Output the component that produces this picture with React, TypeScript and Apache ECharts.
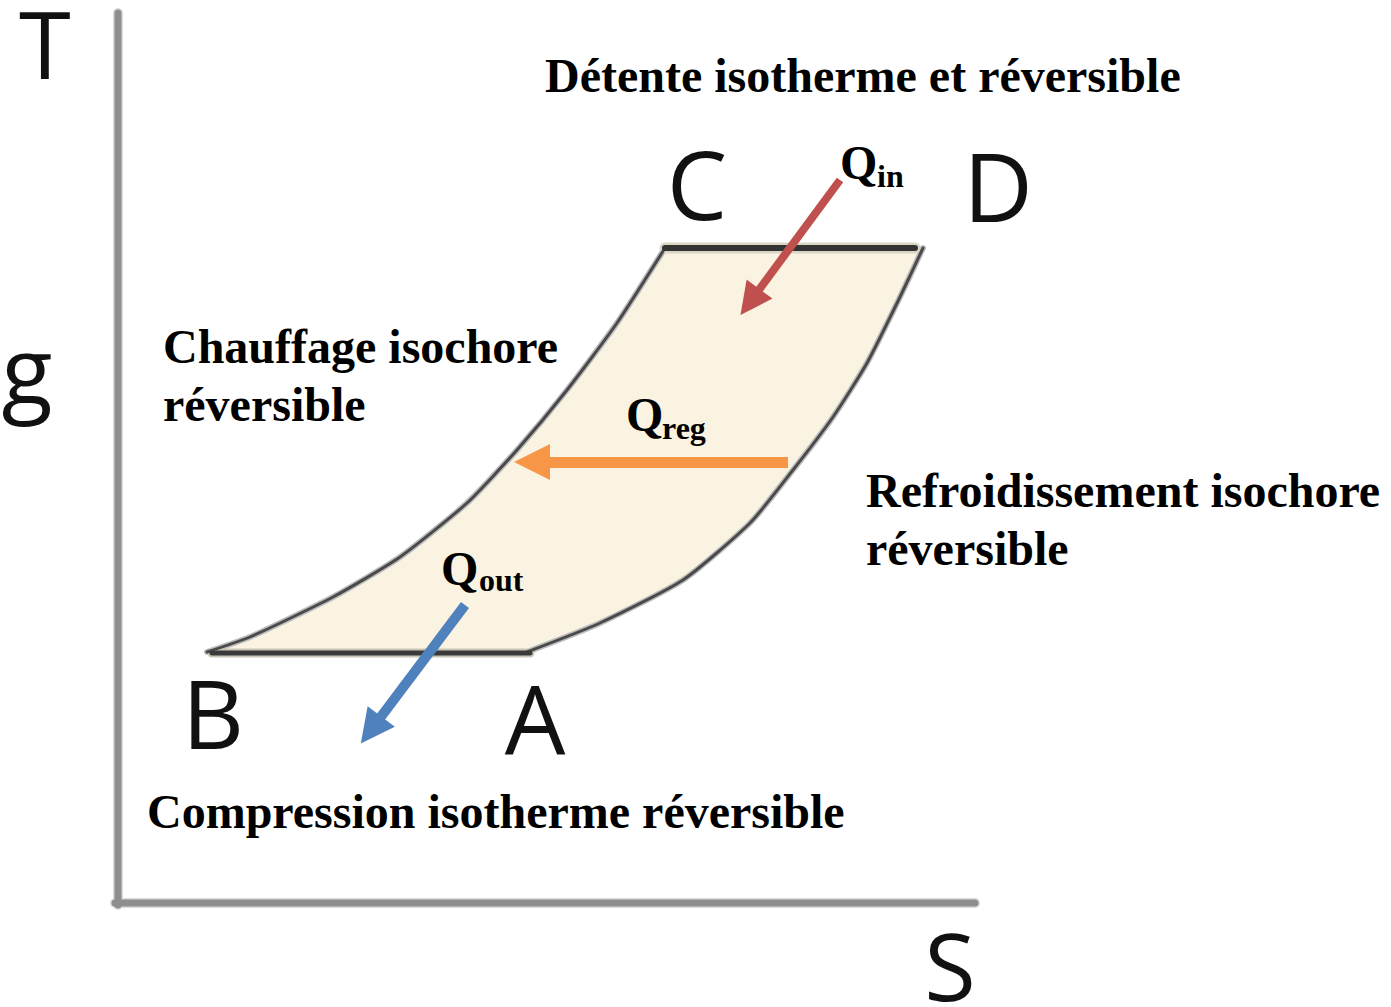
import React, { useEffect, useRef } from "react";
import * as echarts from "echarts";

// Cycle outline (pixel-space coordinates of the T–S sketch, y grows downward)
const leftCurve: number[][] = [
  [207, 652], [250, 637], [333, 597], [400, 557], [467, 503],
  [517, 450], [567, 390], [617, 323], [665, 248],
];
const rightCurve: number[][] = [
  [527, 652], [600, 623], [683, 580], [750, 523], [793, 470],
  [833, 417], [867, 363], [900, 297], [923, 248],
];
const topIsotherm: number[][] = [[665, 248], [915, 248]];
const bottomIsotherm: number[][] = [[212, 653], [530, 653]];

// Axes of the diagram
const axisVertical: number[][] = [[118, 13], [118, 905]];
const axisHorizontal: number[][] = [[115, 903], [975, 903]];

// Heat arrows: [start, head]
const qinArrow: number[][] = [[840, 180], [750, 302]];
const qregArrow: number[][] = [[788, 462], [532, 462]];
const qoutArrow: number[][] = [[465, 605], [371, 730]];

// Texts
const titleLabels = [
  { text: "Détente isotherme et réversible", pos: [545, 75] },
  { text: "Chauffage isochore", pos: [163, 346] },
  { text: "réversible", pos: [163, 404] },
  { text: "Refroidissement isochore", pos: [866, 490] },
  { text: "réversible", pos: [866, 548] },
  { text: "Compression isotherme réversible", pos: [147, 811] },
];
const pointLabels = [
  { text: "C", pos: [697, 182] },
  { text: "D", pos: [998, 184] },
  { text: "B", pos: [213, 711] },
  { text: "A", pos: [535, 717] },
];
const axisLetters = [
  { text: "T", pos: [45, 43] },
  { text: "g", pos: [27, 369] },
  { text: "S", pos: [950, 965] },
];
const heatLabels = [
  { main: "Q", sub: "in", pos: [840, 162], subPos: [877, 176] },
  { main: "Q", sub: "reg", pos: [626, 414], subPos: [662, 428] },
  { main: "Q", sub: "out", pos: [441, 568], subPos: [479, 580] },
];

const SERIF = "'Liberation Serif', 'Times New Roman', serif";
const SANS = "'Open Sans', 'DejaVu Sans', sans-serif";

export default function App() {
  const ref = useRef<HTMLDivElement>(null);

  useEffect(() => {
    if (!ref.current) return;
    const chart = echarts.init(ref.current, undefined, { renderer: "svg" });

    const fillPoly = [...leftCurve, ...rightCurve.slice().reverse()];

    const edge = (data: number[][], color: string, width: number, smooth = 0.2, z = 3) => ({
      type: "line",
      data,
      smooth,
      symbol: "none",
      silent: true,
      z,
      lineStyle: { color, width, cap: "round" },
    });

    const arrow = (coords: number[][], color: string, width: number, size: number) => ({
      type: "lines",
      coordinateSystem: "cartesian2d",
      silent: true,
      z: 6,
      symbol: ["none", "triangle"],
      symbolSize: size,
      lineStyle: { color, width, opacity: 1, curveness: 0 },
      itemStyle: { color },
      data: [{ coords }],
    });

    const graphics: any[] = [];
    const txt = (
      x: number, y: number, text: string, font: string, weight: string,
      size: number, align: string, fill: string, lineHeight?: number
    ) => ({
      type: "text",
      x,
      y,
      z: 100,
      silent: true,
      style: {
        text,
        fontFamily: font,
        fontWeight: weight,
        fontSize: size,
        lineHeight: lineHeight ?? size,
        fill,
        align,
        verticalAlign: "middle",
      },
    });
    titleLabels.forEach((l) =>
      graphics.push(txt(l.pos[0], l.pos[1], l.text, SERIF, "bold", 48, "left", "#000"))
    );
    pointLabels.forEach((l) =>
      graphics.push(txt(l.pos[0], l.pos[1], l.text, SANS, "normal", 96, "center", "#111"))
    );
    axisLetters.forEach((l) =>
      graphics.push(txt(l.pos[0], l.pos[1], l.text, SANS, "normal", 94, "center", "#111", 70))
    );
    heatLabels.forEach((l) => {
      graphics.push(txt(l.pos[0], l.pos[1], l.main, SERIF, "bold", 48, "left", "#000"));
      graphics.push(txt(l.subPos[0], l.subPos[1], l.sub, SERIF, "bold", 32, "left", "#000"));
    });

    chart.setOption({
      animation: false,
      backgroundColor: "#ffffff",
      grid: { left: 0, right: 0, top: 0, bottom: 0, containLabel: false },
      xAxis: { type: "value", min: 0, max: 1391, show: false },
      yAxis: { type: "value", min: 0, max: 1007, inverse: true, show: false },
      series: [
        {
          type: "custom",
          silent: true,
          z: 1,
          data: [[0, 0]],
          renderItem: (params: any, api: any) => {
            if (params.dataIndex !== 0) return null;
            const pts = fillPoly.map((p) => api.coord(p));
            return {
              type: "polygon",
              shape: { points: pts },
              style: { fill: "#faf3e1", stroke: "none" },
            };
          },
        },
        // axes
        edge(axisVertical, "#dadada", 10, 0, 2),
        edge(axisHorizontal, "#dadada", 10, 0, 2),
        edge(axisVertical, "#8e8e8e", 7, 0, 3),
        edge(axisHorizontal, "#8e8e8e", 7, 0, 3),
        // cycle edges: halo then core
        edge(leftCurve, "#bdbdbd", 6, 0.2, 2),
        edge(rightCurve, "#bdbdbd", 6, 0.2, 2),
        edge(leftCurve, "#4a4a4a", 3, 0.2, 3),
        edge(rightCurve, "#4a4a4a", 3, 0.2, 3),
        edge(topIsotherm, "#d9d6c6", 11, 0, 2),
        edge(topIsotherm, "#333333", 6, 0, 3),
        edge(bottomIsotherm, "#c9c6b8", 9, 0, 2),
        edge(bottomIsotherm, "#3a3a3a", 5, 0, 3),
        // heat arrows
        arrow(qinArrow, "#c0504d", 8, 32),
        arrow(qregArrow, "#f79646", 11, 36),
        arrow(qoutArrow, "#4f81bd", 10, 34),
      ],
      graphic: { elements: graphics },
    });

    return () => chart.dispose();
  }, []);

  return (
    <div
      ref={ref}
      style={{ position: "fixed", left: 0, top: 0, width: 1391, height: 1007, background: "#fff" }}
    />
  );
}
